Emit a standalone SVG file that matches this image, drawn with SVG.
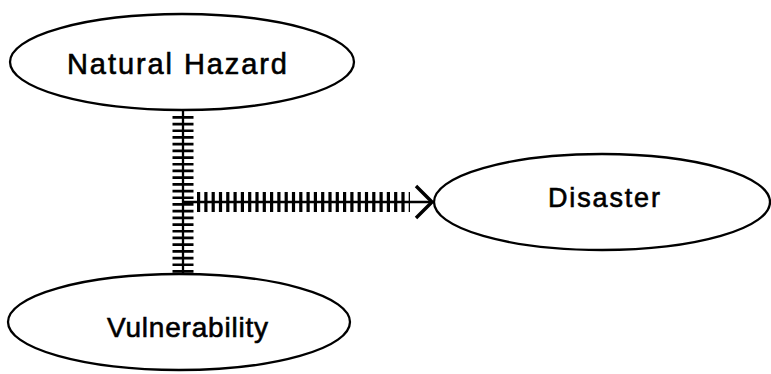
<svg xmlns="http://www.w3.org/2000/svg" width="771" height="374" viewBox="0 0 771 374">
  <defs>
    <style>
      .node ellipse { fill: #fff; stroke: #000; stroke-width: 2.3; }
      .node text { font-family: "Liberation Sans", Arial, sans-serif; fill: #000; stroke: #000; stroke-width: 0.6; }
      .spine { stroke: #000; stroke-width: 2.3; fill: none; }
      .hatch { stroke: #000; fill: none; }
    </style>
    <marker id="chevron" viewBox="0 0 20 36" refX="18" refY="18" markerWidth="20" markerHeight="36" markerUnits="userSpaceOnUse" orient="auto">
      <path d="M2,2 L18,18 L2,34" fill="none" stroke="#000" stroke-width="3.4"/>
    </marker>
  </defs>
  <rect width="771" height="374" fill="#fff"/>

  <g id="connectors">
    <!-- vertical link between hazard and vulnerability -->
    <line class="hatch" x1="183" y1="116" x2="183" y2="273" stroke-width="21" stroke-dasharray="2.7 4"/>
    <line class="spine" x1="183" y1="110" x2="183" y2="275"/>
    <!-- joint link into disaster -->
    <line class="hatch" x1="197" y1="202" x2="410" y2="202" stroke-width="20" stroke-dasharray="3.2 4.1"/>
    <line class="spine" x1="184" y1="202" x2="432" y2="202" marker-end="url(#chevron)"/>
  </g>

  <g id="natural-hazard" class="node">
    <ellipse cx="182" cy="62" rx="172" ry="48"/>
    <text x="67" y="74" font-size="29" textLength="220" lengthAdjust="spacing">Natural Hazard</text>
  </g>

  <g id="disaster" class="node">
    <ellipse cx="602" cy="202" rx="168" ry="48"/>
    <text x="548" y="207" font-size="27" textLength="112" lengthAdjust="spacing">Disaster</text>
  </g>

  <g id="vulnerability" class="node">
    <ellipse cx="179" cy="322" rx="171" ry="48"/>
    <text x="107" y="337" font-size="28" textLength="161" lengthAdjust="spacing">Vulnerability</text>
  </g>
</svg>
